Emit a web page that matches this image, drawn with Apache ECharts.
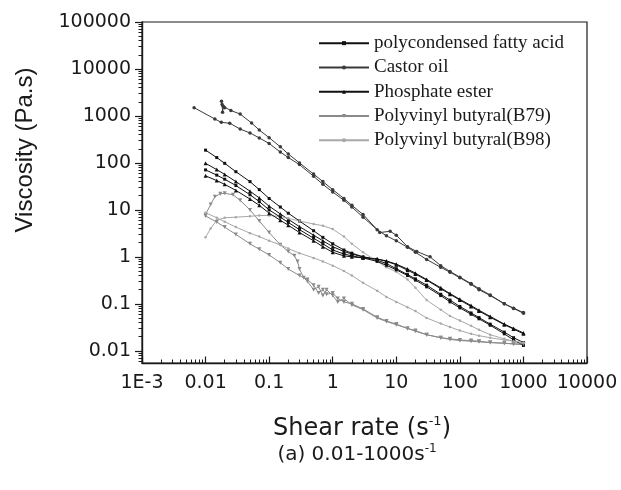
<!DOCTYPE html>
<html>
<head>
<meta charset="utf-8">
<script src="https://cdn.jsdelivr.net/npm/echarts@6/dist/echarts.min.js"></script>
<style>
html,body{margin:0;padding:0;background:#fff;}
#chart{width:621px;height:490px;}
</style>
</head>
<body>
<div id="chart"></div>
<script>
// ---- tick labels ----
const xTickValues = [0.001, 0.01, 0.1, 1, 10, 100, 1000, 10000];
const xTickLabels = ['1E-3', '0.01', '0.1', '1', '10', '100', '1000', '10000'];
const yTickValues = [0.01, 0.1, 1, 10, 100, 1000, 10000, 100000];
const yTickLabels = ['0.01', '0.1', '1', '10', '100', '1000', '10000', '100000'];

// ---- legend names ----
const seriesNames = ['polycondensed fatty acid', 'Castor oil', 'Phosphate ester', 'Polyvinyl butyral(B79)', 'Polyvinyl butyral(B98)'];

// ---- shared shear-rate grid (s^-1) ----
const shearRate = [0.01,0.015,0.02,0.03,0.05,0.07,0.1,0.15,0.2,0.3,0.5,0.7,1,1.5,2,3,5,7,10,15,20,30,50,70,100,150,200,300,500,700,1000];

// polycondensed fatty acid (two runs)
const fattyAcidA = [187,130,98,65,40,27,17.5,11.5,8.5,5.8,3.6,2.6,1.9,1.4,1.2,1.0,0.85,0.72,0.56,0.42,0.34,0.25,0.16,0.12,0.088,0.064,0.051,0.037,0.025,0.019,0.015];
const fattyAcidB = [71,55,45,33,21,15,10,7,5.4,3.8,2.5,1.9,1.4,1.15,1.05,0.95,0.8,0.66,0.53,0.4,0.32,0.23,0.15,0.11,0.082,0.06,0.048,0.035,0.023,0.017,0.013];

// phosphate ester (two runs)
const phosphateA = [98,72,57,40,25,18,12,8.2,6.3,4.4,2.9,2.2,1.65,1.3,1.15,1.0,0.9,0.8,0.68,0.52,0.43,0.32,0.21,0.16,0.12,0.088,0.07,0.052,0.036,0.029,0.023];
const phosphateB = [53,42,35,26,17,12.5,8.5,6,4.7,3.3,2.2,1.65,1.25,1.05,1.0,0.95,0.9,0.82,0.7,0.55,0.45,0.33,0.22,0.165,0.125,0.092,0.073,0.054,0.037,0.03,0.024];

// castor oil (two runs)
const castorA_x = [0.0066,0.014,0.0177,0.024,0.035,0.05,0.07,0.1,0.15,0.2,0.3,0.5,0.7,1,1.5,2,3,5,7,10,15,20,30,50,70,100,150,200,300,500,700,1000];
const castorA_y = [1500,860,730,700,525,435,340,260,170,130,92,52,35,24,16,11.5,7,3.8,2.8,2.2,1.6,1.25,0.88,0.6,0.47,0.36,0.26,0.2,0.15,0.1,0.08,0.063];
const castorB_x = [0.0178,0.0182,0.0185,0.019,0.02,0.025,0.035,0.053,0.07,0.1,0.15,0.2,0.3,0.5,0.7,1,1.5,2,3,5.5,8,10,15,21,34,50,70,100,150,200,300,500,700,1000];
const castorB_y = [2050,1750,1200,1600,1500,1300,1100,705,500,345,220,155,100,58,40,27,17.5,12.5,8,3.3,3.5,2.9,1.65,1.3,1.0,0.65,0.49,0.37,0.27,0.21,0.155,0.1,0.081,0.065];

// polyvinyl butyral B79 (two runs)
const b79A_x = [0.01,0.012,0.014,0.017,0.02,0.027,0.035,0.05,0.07,0.1,0.15,0.2,0.25,0.28,0.3,0.35,0.4,0.5,0.6,0.7,0.8,1,1.2,1.5,2,3,5,7,10,15,20,30,50,70,100,150,200,300,500,700,1000];
const b79A_y = [8,13,19,22,22.5,21,16,10,5.8,3.3,1.8,1.3,1.05,0.8,0.55,0.36,0.3,0.2,0.23,0.15,0.2,0.15,0.11,0.13,0.095,0.075,0.05,0.042,0.036,0.03,0.027,0.022,0.019,0.018,0.017,0.0165,0.016,0.015,0.0145,0.014,0.0135];
const b79B_x = [0.01,0.015,0.02,0.03,0.05,0.07,0.1,0.15,0.2,0.3,0.4,0.5,0.6,0.7,0.8,1,1.2,1.5,2,3,5,7,10,15,20,30,50,70,100,150,200,300,500,700,1000];
const b79B_y = [7.4,5.5,4.3,3.0,1.9,1.45,1.1,0.75,0.55,0.4,0.33,0.25,0.17,0.2,0.16,0.17,0.13,0.11,0.1,0.078,0.052,0.043,0.037,0.03,0.026,0.022,0.019,0.0175,0.0165,0.016,0.0155,0.015,0.0145,0.014,0.014];

// polyvinyl butyral B98 (two runs)
const b98A_x = [0.01,0.012,0.015,0.02,0.03,0.05,0.07,0.1,0.15,0.2,0.3,0.5,0.7,1,1.5,2,3,5,7,10,15,20,30,50,70,100,150,200,300,500,700,1000];
const b98A_y = [2.6,4.0,6.0,6.8,7.0,7.3,7.6,7.6,7.2,6.6,5.8,5.0,4.6,3.9,2.7,1.9,1.25,0.8,0.6,0.48,0.33,0.22,0.12,0.075,0.055,0.044,0.034,0.028,0.022,0.018,0.016,0.014];
const b98B_y = [8.7,6.8,5.6,4.3,3.2,2.7,2.2,1.8,1.5,1.2,0.95,0.8,0.65,0.5,0.4,0.28,0.19,0.14,0.11,0.085,0.07,0.05,0.038,0.032,0.027,0.023,0.021,0.019,0.017,0.016,0.015];

// ---- axis ranges ----
const xMin = 0.001, xMax = 10000;
const yMin = 0.0055, yMax = 100000;

// ---- helpers ----
function zip(xs, ys) { return xs.map((x, i) => [x, ys[i]]); }
// log10 positions of minor ticks (2..9 x 10^d), used by decorative overlay axes
function minorLogTicks(d0, d1, lo, hi) {
  const out = [];
  for (let d = d0; d < d1; d++) for (let k = 2; k <= 9; k++) {
    const p = Math.log10(k) + d;
    if (p >= lo && p <= hi) out.push(p);
  }
  return out;
}
function labelFor(values, labels) {
  return function (v) {
    for (let i = 0; i < values.length; i++) {
      if (Math.abs(Math.log10(v) - Math.log10(values[i])) < 1e-6) return labels[i];
    }
    return '';
  };
}

const AX = '#1a1a1a';
const tickFont = 'DejaVu Sans';
const lxMin = Math.log10(xMin), lxMax = Math.log10(xMax);
const lyMin = Math.log10(yMin), lyMax = Math.log10(yMax);

const styles = {
  fatty:   {color: '#111', symbol: 'rect', symbolSize: 3},
  castor:  {color: '#3a3a3a', symbol: 'circle', symbolSize: 3.5},
  phos:    {color: '#111', symbol: 'triangle', symbolSize: 4},
  b79:     {color: '#8a8a8a', symbol: 'triangle', symbolSize: 4, symbolRotate: 180},
  b98:     {color: '#a8a8a8', symbol: 'circle', symbolSize: 2.5}
};
function mk(name, st, data) {
  return {
    type: 'line', name: name, data: data,
    xAxisIndex: 0, yAxisIndex: 0,
    symbol: st.symbol, symbolSize: st.symbolSize, symbolRotate: st.symbolRotate || 0,
    showSymbol: true, showAllSymbol: true,
    lineStyle: {color: st.color, width: 1},
    itemStyle: {color: st.color},
    emphasis: {disabled: true},
    animation: false
  };
}

const series = [
  mk(seriesNames[0], styles.fatty, zip(shearRate, fattyAcidA)),
  mk(seriesNames[1], styles.castor, zip(castorA_x, castorA_y)),
  mk(seriesNames[2], styles.phos, zip(shearRate, phosphateA)),
  mk(seriesNames[3], styles.b79, zip(b79A_x, b79A_y)),
  mk(seriesNames[4], styles.b98, zip(b98A_x, b98A_y)),
  mk(seriesNames[0], styles.fatty, zip(shearRate, fattyAcidB)),
  mk(seriesNames[1], styles.castor, zip(castorB_x, castorB_y)),
  mk(seriesNames[2], styles.phos, zip(shearRate, phosphateB)),
  mk(seriesNames[3], styles.b79, zip(b79B_x, b79B_y)),
  mk(seriesNames[4], styles.b98, zip(shearRate, b98B_y))
];

function tickAxis(min, max, pos, values, len, inside, w) {
  return {
    type: 'value', min: min, max: max, position: pos, offset: 0,
    axisLine: {show: false, onZero: false},
    axisTick: {show: true, inside: inside, length: len, customValues: values, lineStyle: {color: AX, width: w}},
    axisLabel: {show: false}, splitLine: {show: false}, minorTick: {show: false}
  };
}
const xMajorLog = xTickValues.map(v => Math.log10(v));
const yMajorLog = yTickValues.map(v => Math.log10(v));

const chart = echarts.init(document.getElementById('chart'), null, {renderer: 'canvas'});
const option = {
  animation: false,
  backgroundColor: '#fff',
  grid: {left: 142, right: 34, top: 22, bottom: 127, show: true, borderColor: AX, borderWidth: 1.2, containLabel: false},
  legend: {
    data: seriesNames,
    left: 318, top: 31, orient: 'vertical', padding: 0,
    itemWidth: 50, itemHeight: 5, itemGap: 0,
    textStyle: {fontFamily: 'Liberation Serif', fontSize: 19, color: '#1a1a1a', lineHeight: 24.3},
    selectedMode: false
  },
  xAxis: [
    {
      type: 'log', logBase: 10, min: xMin, max: xMax, position: 'bottom',
      axisLine: {show: true, onZero: false, lineStyle: {color: AX, width: 1.4}},
      axisTick: {show: false},
      axisLabel: {show: true, customValues: xTickValues, formatter: labelFor(xTickValues, xTickLabels),
                  fontFamily: tickFont, fontSize: 19, color: AX, margin: 11},
      splitLine: {show: false}, minorTick: {show: false}
    },
    tickAxis(lxMin, lxMax, 'bottom', minorLogTicks(-3, 4, lxMin, lxMax), 3.5, true, 1),
    tickAxis(lxMin, lxMax, 'bottom', xMajorLog, 6.5, true, 1.2)
  ],
  yAxis: [
    {
      type: 'log', logBase: 10, min: yMin, max: yMax, position: 'left',
      axisLine: {show: true, onZero: false, lineStyle: {color: AX, width: 1.4}},
      axisTick: {show: false},
      axisLabel: {show: true, customValues: yTickValues, formatter: labelFor(yTickValues, yTickLabels),
                  fontFamily: tickFont, fontSize: 19, color: AX, margin: 11},
      splitLine: {show: false}, minorTick: {show: false}
    },
    tickAxis(lyMin, lyMax, 'left', minorLogTicks(-3, 5, lyMin, lyMax), 3.5, false, 1),
    tickAxis(lyMin, lyMax, 'left', yMajorLog, 7, false, 1.2)
  ],
  graphic: [
    {type: 'text', x: 25, y: 150, rotation: Math.PI / 2,
     style: {text: 'Viscosity (Pa.s)', font: '24px "Liberation Sans"', fill: '#1a1a1a', align: 'center', verticalAlign: 'middle'}},
    {type: 'text', x: 362, y: 429,
     style: {text: '{a|Shear rate (s}{b|-1}{a|)}', align: 'center', verticalAlign: 'middle', fill: '#1a1a1a',
             rich: {a: {fontFamily: 'DejaVu Sans', fontSize: 24, fill: '#1a1a1a', lineHeight: 28},
                    b: {fontFamily: 'DejaVu Sans', fontSize: 13, fill: '#1a1a1a', verticalAlign: 'top', lineHeight: 28}}}},
    {type: 'text', x: 357, y: 455,
     style: {text: '{a|(a) 0.01-1000s}{b|-1}', align: 'center', verticalAlign: 'middle', fill: '#1a1a1a',
             rich: {a: {fontFamily: 'DejaVu Sans', fontSize: 20, fill: '#1a1a1a', lineHeight: 24},
                    b: {fontFamily: 'DejaVu Sans', fontSize: 12, fill: '#1a1a1a', verticalAlign: 'top', lineHeight: 24}}}}
  ],
  series: series
};
chart.setOption(option);
</script>
</body>
</html>
